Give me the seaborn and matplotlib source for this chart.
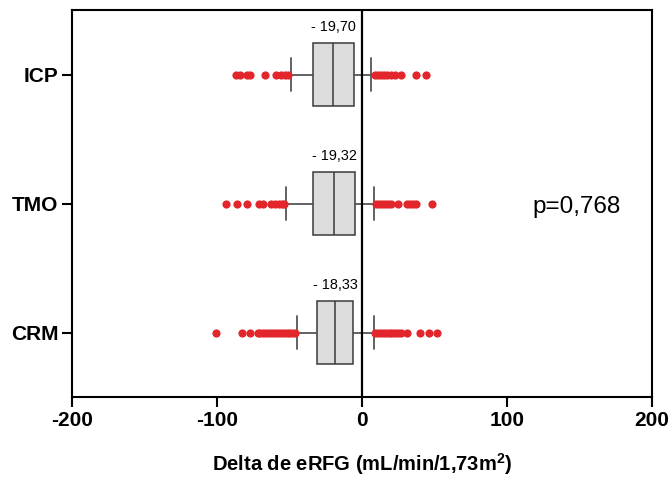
import matplotlib
matplotlib.use("Agg")
import matplotlib.pyplot as plt
import seaborn as sns
import pandas as pd

# Groups, top to bottom
groups = ["ICP", "TMO", "CRM"]

# Box summaries for delta eRFG (mL/min/1,73m2)
medians = [-19.70, -19.32, -18.33]
q1 = [-33.5, -33.9, -31.2]
q3 = [-5.5, -4.8, -6.0]
whisker_low = [-49.0, -52.2, -44.7]
whisker_high = [6.2, 8.5, 8.5]

# Points beyond the whiskers
outliers_icp = [-87, -84, -79, -77, -67, -59, -56, -53, -51,
                9, 11, 13, 15, 17, 20, 23, 27, 37, 44]
outliers_tmo = [-94, -86, -79, -71, -68, -63, -60, -57, -55, -54,
                10, 12, 14, 16, 18, 20, 25, 31, 33, 35, 37, 48]
outliers_crm = [-101, -83, -77, -72, -70, -68, -66, -64, -62, -60, -58, -56,
                -54, -52, -50, -48, -46,
                9, 11, 13, 15, 17, 19, 21, 23, 25, 27, 31, 40, 46, 52]

median_labels = ["- 19,70", "- 19,32", "- 18,33"]
p_value_text = "p=0,768"
x_ticks = [-200, -100, 0, 100, 200]
x_label = r"Delta de eRFG (mL/min/1,73m$^{2}$)"

sns.set_style("ticks")
plt.rcParams["font.family"] = ["Liberation Sans", "DejaVu Sans"]
plt.rcParams["mathtext.fontset"] = "custom"
plt.rcParams["mathtext.rm"] = "Liberation Sans:bold"
plt.rcParams["mathtext.it"] = "Liberation Sans:bold"
plt.rcParams["mathtext.bf"] = "Liberation Sans:bold"
plt.rcParams["text.color"] = "black"
plt.rcParams["axes.labelcolor"] = "black"

fig, ax = plt.subplots(figsize=(6.70, 4.79), dpi=100)
fig.subplots_adjust(left=0.1075, right=0.973, bottom=0.171, top=0.979)

# Outlier dots
out_df = pd.DataFrame({
    "group": (["ICP"] * len(outliers_icp) + ["TMO"] * len(outliers_tmo)
              + ["CRM"] * len(outliers_crm)),
    "value": outliers_icp + outliers_tmo + outliers_crm,
})
sns.stripplot(data=out_df, x="value", y="group", order=groups, jitter=False,
              color="#e2262b", size=5.9, linewidth=0, ax=ax, zorder=3)

# Boxes from the summary statistics
stats = []
for i, g in enumerate(groups):
    stats.append({
        "label": g, "med": medians[i], "q1": q1[i], "q3": q3[i],
        "whislo": whisker_low[i], "whishi": whisker_high[i], "fliers": [],
    })
ax.bxp(stats, positions=range(len(groups)), widths=0.49, capwidths=0.26,
       orientation="horizontal", showfliers=False, patch_artist=True,
       manage_ticks=False,
       boxprops=dict(facecolor="#dcdcdc", edgecolor="#3a3a3a", linewidth=1.1),
       medianprops=dict(color="#3a3a3a", linewidth=1.1),
       whiskerprops=dict(color="#555555", linewidth=1.3),
       capprops=dict(color="#555555", linewidth=1.3),
       zorder=2)

# Zero reference line
ax.axvline(0, color="black", linewidth=1.6, zorder=5)

# Median value labels above each box
for i, lab in enumerate(median_labels):
    ax.text(medians[i], i - 0.335, lab, ha="center", va="baseline",
            fontsize=10.4, color="black")

ax.text(148, 1.07, p_value_text, ha="center", va="baseline", fontsize=17.5,
        color="black")

ax.set_xlim(-200, 200)
ax.set_ylim(2.5, -0.5)
ax.set_xticks(x_ticks)
ax.set_xticklabels([str(t) for t in x_ticks])
ax.set_yticks(range(len(groups)))
ax.set_yticklabels(groups)
ax.set_ylabel("")
ax.set_xlabel(x_label, fontsize=14.5, fontweight="bold", labelpad=15,
              color="black")

for side in ["top", "right", "left", "bottom"]:
    ax.spines[side].set_visible(True)
    ax.spines[side].set_linewidth(1.5)
    ax.spines[side].set_color("black")

ax.tick_params(axis="both", direction="out", length=7, width=1.5,
               colors="black", labelcolor="black", labelsize=15, pad=3)
for lbl in ax.get_xticklabels() + ax.get_yticklabels():
    lbl.set_fontweight("bold")

fig.savefig("out.png", dpi=100)
